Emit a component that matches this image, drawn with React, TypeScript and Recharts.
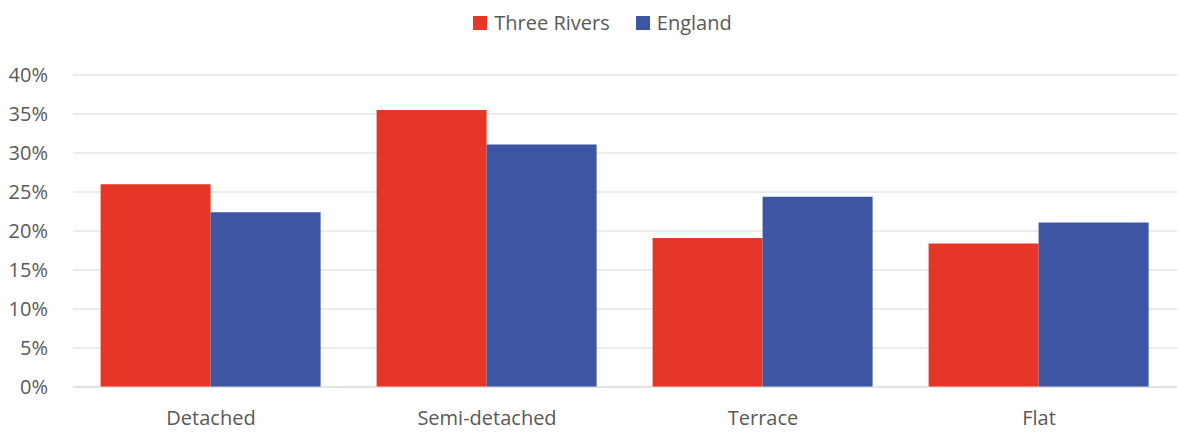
import { BarChart, Bar, XAxis, YAxis, CartesianGrid, Legend } from 'recharts'

const categories = ['Detached', 'Semi-detached', 'Terrace', 'Flat']
const threeRivers = [26.0, 35.5, 19.1, 18.4]
const england = [22.4, 31.1, 24.4, 21.1]
const yTicks = [0, 5, 10, 15, 20, 25, 30, 35, 40]

const RED = '#E53627'
const BLUE = '#3C56A3'
const TEXT = '#595959'
const GRID = '#D9D9D9'

const data = categories.map((name, i) => ({
  name,
  threeRivers: threeRivers[i],
  england: england[i],
}))

function TopLegend() {
  const items = [
    { label: 'Three Rivers', color: RED },
    { label: 'England', color: BLUE },
  ]
  return (
    <div style={{ display: 'flex', justifyContent: 'center', alignItems: 'center', gap: 26, paddingTop: 1, paddingLeft: 28 }}>
      {items.map((it) => (
        <div key={it.label} style={{ display: 'flex', alignItems: 'center', gap: 7 }}>
          <span style={{ width: 14, height: 14, background: it.color, display: 'inline-block' }} />
          <span style={{ color: TEXT, fontSize: 20 }}>{it.label}</span>
        </div>
      ))}
    </div>
  )
}

export default function App() {
  return (
    <div
      style={{
        position: 'fixed', left: 0, top: 0, width: 1178, height: 432,
        overflow: 'hidden', background: '#fff', fontFamily: '"Open Sans", sans-serif',
      }}
    >
      <BarChart
        width={1178}
        height={432}
        data={data}
        margin={{ top: 8, right: 1, left: 0, bottom: 0 }}
        barCategoryGap="10%"
        barGap={0}
      >
        <Legend verticalAlign="top" height={67} content={<TopLegend />} />
        <CartesianGrid horizontal vertical={false} stroke={GRID} />
        <XAxis
          dataKey="name"
          height={45}
          tickLine={false}
          axisLine={{ stroke: GRID }}
          tickMargin={18}
          tick={{ fontSize: 20, fill: TEXT }}
        />
        <YAxis
          width={73}
          domain={[0, 40]}
          ticks={yTicks}
          interval={0}
          axisLine={false}
          tickLine={false}
          tickMargin={19}
          tickFormatter={(v) => `${v}%`}
          tick={{ fontSize: 20, fill: TEXT }}
        />
        <Bar dataKey="threeRivers" name="Three Rivers" fill={RED} isAnimationActive={false} />
        <Bar dataKey="england" name="England" fill={BLUE} isAnimationActive={false} />
      </BarChart>
    </div>
  )
}
